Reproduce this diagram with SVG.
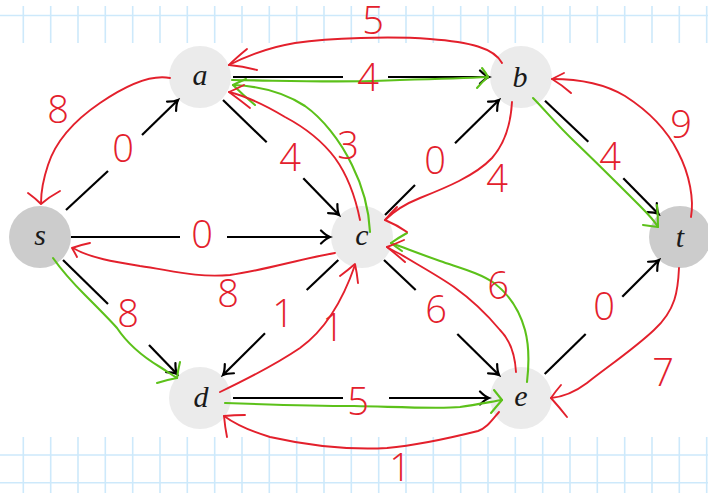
<svg xmlns="http://www.w3.org/2000/svg" width="708" height="493" viewBox="0 0 708 493">
<style>
.grid{stroke:#cde9fb;stroke-width:1.6;fill:none}
.node{fill:#ebebeb}
.term{fill:#cccccc}
.lbl{font-family:"Liberation Serif","DejaVu Serif",serif;font-style:italic;font-size:30px;fill:#1a1a1a;text-anchor:middle}
.edge{stroke:#000;stroke-width:2.2;fill:none}
.arr{marker-end:url(#ah)}
.red{stroke:#e3202c;stroke-width:1.9;fill:none;stroke-linecap:round;stroke-linejoin:round}
.grn{stroke:#5cc11a;stroke-width:2.1;fill:none;stroke-linecap:round;stroke-linejoin:round}
.num{font-family:"Open Sans","Inter","DejaVu Sans",sans-serif;font-weight:300;font-size:38px;fill:#e3202c;text-anchor:middle}
</style>
<defs>
<marker id="ah" markerUnits="userSpaceOnUse" markerWidth="16" markerHeight="16" viewBox="-12 -8 14 16" refX="0" refY="0" orient="auto">
<path d="M-9,-6.5 Q-4,-1.5 0,0 Q-4,1.5 -9,6.5" fill="none" stroke="#000" stroke-width="2.2" stroke-linecap="round"/>
</marker>
</defs>
<rect width="708" height="493" fill="#ffffff"/>
<g id="grid">
<path class="grid" d="M0,15.5H708 M0,455H708 M0,482.7H708"/>
<path class="grid" d="M23.3,6V43 M50.7,6V43 M78,6V43 M105.3,6V43 M132.7,6V43 M160,6V43 M187.3,6V43 M214.7,6V43 M242,6V43 M269.3,6V43 M296.7,6V43 M324,6V43 M351.3,6V43 M378.7,6V43 M406,6V43 M433.3,6V43 M460.7,6V43 M488,6V43 M515.3,6V43 M542.7,6V43 M570,6V43 M597.3,6V43 M624.7,6V43 M652,6V43 M679.3,6V43 M706.7,6V43"/>
<path class="grid" d="M23.3,437V493 M50.7,437V493 M78,437V493 M105.3,437V493 M132.7,437V493 M160,437V493 M187.3,437V493 M214.7,437V493 M242,437V493 M269.3,437V493 M296.7,437V493 M324,437V493 M351.3,437V493 M378.7,437V493 M406,437V493 M433.3,437V493 M460.7,437V493 M488,437V493 M515.3,437V493 M542.7,437V493 M570,437V493 M597.3,437V493 M624.7,437V493 M652,437V493 M679.3,437V493 M706.7,437V493"/>
</g>
<g id="node-s"><circle class="term" cx="40" cy="237" r="31"/><text class="lbl" x="40" y="245">s</text></g>
<g id="node-a"><circle class="node" cx="200" cy="77" r="31"/><text class="lbl" x="200" y="85">a</text></g>
<g id="node-b"><circle class="node" cx="521" cy="77" r="31"/><text class="lbl" x="520" y="87">b</text></g>
<g id="node-c"><circle class="node" cx="362" cy="237" r="31"/><text class="lbl" x="362" y="245">c</text></g>
<g id="node-d"><circle class="node" cx="200" cy="398" r="31"/><text class="lbl" x="201" y="407">d</text></g>
<g id="node-e"><circle class="node" cx="521" cy="398" r="31"/><text class="lbl" x="521" y="406">e</text></g>
<g id="node-t"><circle class="term" cx="680" cy="237" r="31"/><text class="lbl" x="680" y="247">t</text></g>
<g id="connectors">
<path class="edge" d="M66,210 L108,171"/><path class="edge arr" d="M142,135 L178,100"/>
<path class="edge" d="M71,237 L180,237"/><path class="edge arr" d="M227,237 L330,237"/>
<path class="edge" d="M63,260 L108,304"/><path class="edge arr" d="M149,345 L177,374"/>
<path class="edge" d="M223,100 L266.7,142.3"/><path class="edge arr" d="M303.3,178.3 L339,215"/>
<path class="edge" d="M233,77 L343,77"/><path class="edge arr" d="M388,77 L489,77"/>
<path class="edge" d="M385,215 L415,185"/><path class="edge arr" d="M455,143.3 L499,100"/>
<path class="edge" d="M545,100.7 L588.3,141.7"/><path class="edge arr" d="M623.3,178.3 L658.5,214"/>
<path class="edge" d="M338.3,260 L306.7,290"/><path class="edge arr" d="M265,333.3 L223,375"/>
<path class="edge" d="M384,260 L415.7,290"/><path class="edge arr" d="M457.3,334 L499,375"/>
<path class="edge" d="M233,398 L343,398"/><path class="edge arr" d="M389,398 L489,398"/>
<path class="edge" d="M544.7,374 L585.7,334"/><path class="edge arr" d="M622.3,296.7 L659,260"/>
</g>
<g id="flow-green">
<path class="grn" d="M232,80 C300,81 350,83 400,80 C440,79 470,78 488,77"/>
<path class="grn" d="M482,68 Q486,73 488,77 Q482,82 477,88"/>
<path class="grn" d="M370,232 C369,210 362,185 352,165 C340,140 322,118 305,106 C285,93 260,86 233,85"/>
<path class="grn" d="M246,79 Q239,82 233,85 Q243,95 255,105"/>
<path class="grn" d="M533,98 C545,110 556,124 575,142 C598,164 620,186 640,206 C648,214 654,220 658,227"/>
<path class="grn" d="M657,205 Q658,216 658,227 Q650,226 643,225"/>
<path class="grn" d="M53,258 C65,275 75,285 85,295 C100,310 110,320 117,328 C125,340 140,355 160,367 C168,372 172,375 177,378"/>
<path class="grn" d="M180,362 Q178,370 177,378 Q166,380 157,383"/>
<path class="grn" d="M225,403 C280,405 320,406 354,406 C400,407 440,409 460,407 C475,405 490,402 502,400"/>
<path class="grn" d="M494,390 Q498,395 502,400 Q496,407 491,413"/>
<path class="grn" d="M527,382 C529,365 529,345 525,330 C520,312 510,295 494,283 C480,273 460,268 440,261 C420,254 405,248 391,243"/>
<path class="grn" d="M407,233 Q398,238 391,243 Q396,247 402,251"/>
</g>
<g id="residual-red">
<path class="red" d="M502,63 C494,48 470,42 430,39 C390,36 330,38 295,43 C270,47 245,57 229,65"/>
<path class="red" d="M247,49 Q236,58 229,65 Q243,66 257,70"/>
<path class="red" d="M170,78 C150,74 125,86 100,103 C75,120 56,140 48,165 C43,180 41,192 41,203"/>
<path class="red" d="M28,193 Q35,198 41,204 Q49,197 60,191"/>
<path class="red" d="M335,253 C300,259 265,270 230,275 C195,278 170,270 140,266 C115,262 90,258 73,248"/>
<path class="red" d="M90,243 Q80,245 72,248 Q75,253 77,257"/>
<path class="red" d="M360,220 C356,200 348,176 335,158 C320,138 302,126 285,117 C265,105 245,96 229,92"/>
<path class="red" d="M244,85 Q236,89 229,92 Q240,100 250,108"/>
<path class="red" d="M512,102 C511,120 506,142 492,158 C475,176 445,188 420,198 C405,204 393,212 385,220"/>
<path class="red" d="M397,207 Q390,214 385,220 Q397,225 407,232"/>
<path class="red" d="M691,217 C694,200 690,175 678,152 C668,132 650,112 625,96 C605,84 580,79 552,79"/>
<path class="red" d="M564,73 Q558,76 552,79 Q562,85 571,93"/>
<path class="red" d="M220,392 C245,380 275,365 300,348 C325,330 343,300 355,265"/>
<path class="red" d="M340,276 Q348,270 355,264 Q357,273 358,283"/>
<path class="red" d="M499,412 C492,420 487,428 478,431 C450,438 420,445 387,448 C350,450 310,446 270,437 C250,431 235,424 224,416"/>
<path class="red" d="M245,415 Q234,415 224,416 Q225,427 227,437"/>
<path class="red" d="M516,372 C515,355 510,340 500,330 C490,318 475,302 454,287 C440,277 420,266 400,254 C394,251 390,249 387,247"/>
<path class="red" d="M404,240 Q395,244 387,247 Q397,255 405,262"/>
<path class="red" d="M679,268 C678,290 676,310 654,330 C635,348 610,365 587,383 C575,392 562,397 551,398"/>
<path class="red" d="M561,385 Q555,392 551,398 Q560,408 567,417"/>
</g>
<g id="numbers">
<text class="num" x="373" y="34" font-size="25">5</text>
<text class="num" x="368" y="91" font-size="40">4</text>
<text class="num" x="58" y="123" font-size="42">8</text>
<text class="num" x="123" y="162" font-size="34">0</text>
<text class="num" x="290" y="171">4</text>
<text class="num" x="348" y="159" font-size="32">3</text>
<text class="num" x="202" y="248">0</text>
<text class="num" x="228" y="307" font-size="40">8</text>
<text class="num" x="128" y="327" font-size="40">8</text>
<text class="num" x="283" y="327">1</text>
<text class="num" x="333" y="341">1</text>
<text class="num" x="435" y="174">0</text>
<text class="num" x="497" y="192" font-size="40">4</text>
<text class="num" x="610" y="170" font-size="40">4</text>
<text class="num" x="681" y="138">9</text>
<text class="num" x="436" y="323" font-size="42">6</text>
<text class="num" x="498" y="299" font-size="32">6</text>
<text class="num" x="604" y="320" font-size="32">0</text>
<text class="num" x="663" y="386" font-size="32">7</text>
<text class="num" x="358" y="415" font-size="42">5</text>
<text class="num" x="400" y="481" font-size="28">1</text>
</g>
</svg>
